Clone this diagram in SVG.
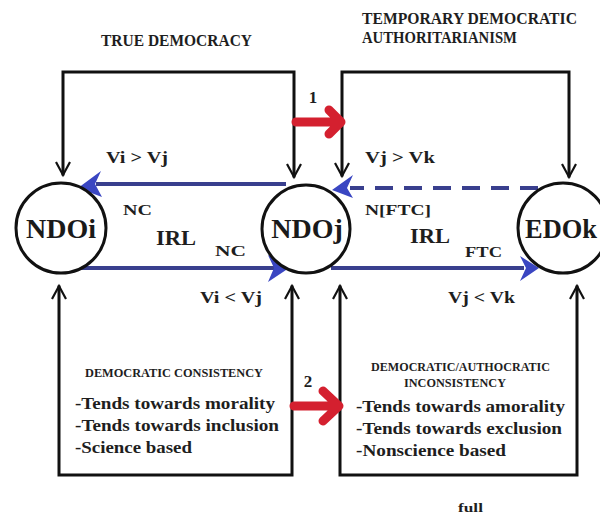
<svg xmlns="http://www.w3.org/2000/svg" width="600" height="517" viewBox="0 0 600 517">
<style>
.bg{fill:#fff}
.node{fill:#fff;stroke:#111;stroke-width:3}
.nl{font-family:"Liberation Serif","Times New Roman",serif;font-weight:bold;font-size:28px;fill:#1a1a1a}
.t{font-family:"Liberation Serif","Times New Roman",serif;font-weight:bold;fill:#1e1e1e}
.blk{fill:none;stroke:#111;stroke-width:3;stroke-linecap:square}
.chev{fill:none;stroke:#111;stroke-width:2.2;stroke-linejoin:miter}
.bl{fill:none;stroke:#393f8e;stroke-width:4}
.bld{fill:none;stroke:#393f8e;stroke-width:4;stroke-dasharray:18 11}
.bh{fill:#3a46c2}
.red{fill:none;stroke:#d4202f;stroke-width:9;stroke-linecap:round;stroke-linejoin:round}
</style>
<rect class="bg" x="0" y="0" width="600" height="517"/>

<g id="headers">
<text class="t" x="101" y="46" font-size="17" textLength="151" lengthAdjust="spacingAndGlyphs">TRUE DEMOCRACY</text>
<text class="t" x="362" y="24" font-size="17" textLength="215" lengthAdjust="spacingAndGlyphs">TEMPORARY DEMOCRATIC</text>
<text class="t" x="362" y="43" font-size="17" textLength="155" lengthAdjust="spacingAndGlyphs">AUTHORITARIANISM</text>
</g>

<g id="connectors">
<polyline class="blk" points="63,174 63,72 294,72 294,176"/>
<polyline class="blk" points="342,175 342,72 569,72 569,176"/>
<polyline class="chev" points="56,162 63,175 70,162"/>
<polyline class="chev" points="287,164 294,177 301,164"/>
<polyline class="chev" points="335,163 342,176 349,163"/>
<polyline class="chev" points="562,164 569,177 576,164"/>
<polyline class="blk" points="59,287 59,475 292,475 292,287"/>
<polyline class="blk" points="340,287 340,475 577,475 577,287"/>
<polyline class="chev" points="52,299 59,286 66,299"/>
<polyline class="chev" points="285,299 292,286 299,299"/>
<polyline class="chev" points="333,299 340,286 347,299"/>
<polyline class="chev" points="570,299 577,286 584,299"/>
<path class="red" d="M296,122 L336,122 M329,110 L341,122 L329,134"/>
<path class="red" d="M294,406 L334,406 M323,391 L339,406 L323,421"/>
<line class="bl" x1="286" y1="184" x2="96" y2="184"/>
<polygon class="bh" points="78,188 101,171 95,184 102,197"/>
<line class="bld" x1="538" y1="188" x2="350" y2="188"/>
<polygon class="bh" points="332,190 353,175 347,188 353,198"/>
<line class="bl" x1="64" y1="268" x2="274" y2="268"/>
<polygon class="bh" points="289,268 268,255 274,268 268,282"/>
<line class="bl" x1="331" y1="268" x2="524" y2="268"/>
<polygon class="bh" points="539,268 520,256 526,268 520,281"/>
</g>

<g id="node-NDOi">
<circle class="node" cx="61" cy="228" r="45"/>
<text class="nl" x="61" y="238" text-anchor="middle">NDOi</text>
</g>
<g id="node-NDOj">
<circle class="node" cx="306" cy="229" r="44"/>
<text class="nl" x="307" y="238" text-anchor="middle">NDOj</text>
</g>
<g id="node-EDOk">
<circle class="node" cx="563" cy="228" r="45"/>
<text class="nl" x="525" y="238" textLength="72" lengthAdjust="spacingAndGlyphs">EDOk</text>
</g>

<g id="labels">
<text class="t" x="313" y="103" font-size="17" text-anchor="middle">1</text>
<text class="t" x="308" y="387" font-size="17" text-anchor="middle">2</text>
<text class="t" x="106" y="163" font-size="17" textLength="62" lengthAdjust="spacingAndGlyphs">Vi &gt; Vj</text>
<text class="t" x="365" y="163" font-size="17" textLength="70" lengthAdjust="spacingAndGlyphs">Vj &gt; Vk</text>
<text class="t" x="123" y="215" font-size="14" textLength="29" lengthAdjust="spacingAndGlyphs">NC</text>
<text class="t" x="156" y="245" font-size="20" textLength="40" lengthAdjust="spacingAndGlyphs">IRL</text>
<text class="t" x="215" y="256" font-size="14" textLength="31" lengthAdjust="spacingAndGlyphs">NC</text>
<text class="t" x="365" y="215" font-size="14" textLength="66" lengthAdjust="spacingAndGlyphs">N[FTC]</text>
<text class="t" x="410" y="243" font-size="20" textLength="40" lengthAdjust="spacingAndGlyphs">IRL</text>
<text class="t" x="465" y="257" font-size="14" textLength="37" lengthAdjust="spacingAndGlyphs">FTC</text>
<text class="t" x="200" y="303" font-size="17" textLength="62" lengthAdjust="spacingAndGlyphs">Vi &lt; Vj</text>
<text class="t" x="448" y="303" font-size="17" textLength="67" lengthAdjust="spacingAndGlyphs">Vj &lt; Vk</text>
</g>

<g id="box-consistency">
<text class="t" x="85" y="377" font-size="12" textLength="178" lengthAdjust="spacingAndGlyphs">DEMOCRATIC CONSISTENCY</text>
<text class="t" x="75" y="409" font-size="17" textLength="200" lengthAdjust="spacingAndGlyphs">-Tends towards morality</text>
<text class="t" x="75" y="431" font-size="17" textLength="204" lengthAdjust="spacingAndGlyphs">-Tends towards inclusion</text>
<text class="t" x="75" y="453" font-size="17" textLength="117" lengthAdjust="spacingAndGlyphs">-Science based</text>
</g>

<g id="box-inconsistency">
<text class="t" x="371" y="371" font-size="12" textLength="179" lengthAdjust="spacingAndGlyphs">DEMOCRATIC/AUTHOCRATIC</text>
<text class="t" x="404" y="387" font-size="12" textLength="102" lengthAdjust="spacingAndGlyphs">INCONSISTENCY</text>
<text class="t" x="356" y="412" font-size="17" textLength="209" lengthAdjust="spacingAndGlyphs">-Tends towards amorality</text>
<text class="t" x="356" y="434" font-size="17" textLength="206" lengthAdjust="spacingAndGlyphs">-Tends towards exclusion</text>
<text class="t" x="356" y="456" font-size="17" textLength="150" lengthAdjust="spacingAndGlyphs">-Nonscience based</text>
</g>

<text class="t" x="458" y="512" font-size="13" textLength="25" lengthAdjust="spacingAndGlyphs">full</text>
</svg>
